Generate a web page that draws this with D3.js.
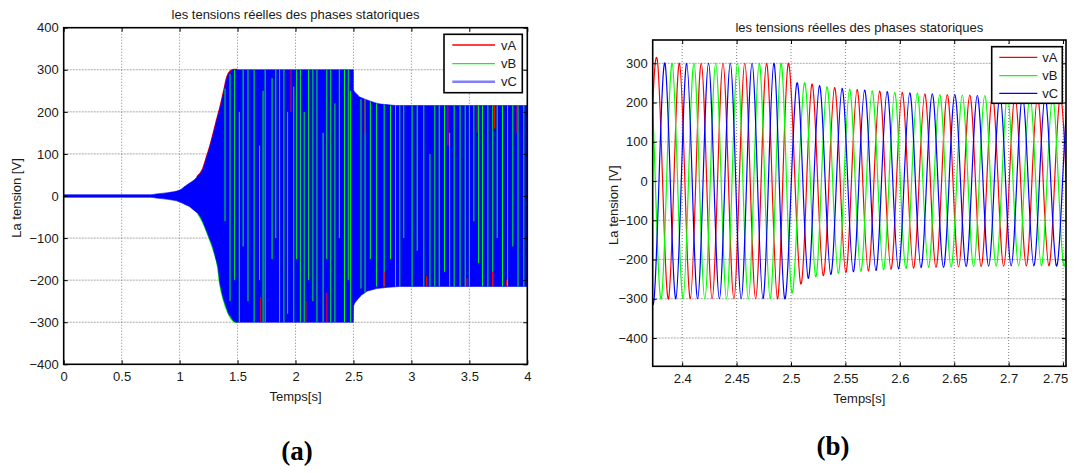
<!DOCTYPE html>
<html>
<head>
<meta charset="utf-8">
<script src="https://cdn.jsdelivr.net/npm/d3@7"></script>
<style>
  body { margin: 0; background: #fff; }
  svg { display: block; }
  .sans { font-family: "Liberation Sans", Arial, Helvetica, sans-serif; fill: #1a1a1a; }
  .cap { font-family: "Liberation Serif", "Times New Roman", serif; font-weight: bold; fill: #000; }
</style>
</head>
<body>
<svg id="fig" width="1077" height="473"></svg>
<script>
// ---------- shared text ----------
const chartTitle = "les tensions réelles des phases statoriques";
const yLabel = "La tension [V]";
const xLabel = "Temps[s]";
const seriesNames = ["vA", "vB", "vC"];

// ---------- panel (a): full run 0..4 s ----------
const aXTicks = [0, 0.5, 1, 1.5, 2, 2.5, 3, 3.5, 4];
const aYTicks = [-400, -300, -200, -100, 0, 100, 200, 300, 400];
// upper envelope of the three phase voltages (s, V)
const aUpperT = [0, 0.75, 0.8, 0.9, 1.0, 1.05, 1.1, 1.15, 1.2, 1.226, 1.262, 1.292, 1.321, 1.351, 1.381, 1.411, 1.44, 1.47, 1.5, 2.499, 2.501, 2.53, 2.556, 2.6, 2.63, 2.68, 2.72, 2.8, 2.87, 3.0, 4.0];
const aUpperV = [3, 3, 5, 8, 14, 24, 33, 45, 63, 85, 117, 148, 180, 211, 247, 283, 297, 300, 300, 300, 252, 242, 235, 230, 227, 222, 219, 217, 215, 215, 215];
// lower envelope (s, V)
const aLowerT = [0, 0.75, 0.8, 0.9, 1.0, 1.09, 1.16, 1.2, 1.25, 1.29, 1.33, 1.35, 1.38, 1.42, 1.47, 1.5, 2.499, 2.501, 2.53, 2.56, 2.62, 2.7, 2.8, 2.9, 4.0];
const aLowerV = [-3, -3, -5, -8, -14, -26, -42, -61, -95, -125, -167, -210, -246, -278, -298, -300, -300, -262, -248, -238, -226, -220, -217, -215, -215];
// vB traces showing through the dense vC trace: [time, from V, to V]
const aStripesB = [
  [1.392, 255, -60], [1.435, 290, -250], [1.475, 300, -200], [1.515, 200, -300],
  [1.548, 300, -120], [1.590, 300, -250], [1.643, 300, -300], [1.690, 120, -200],
  [1.720, 250, -300], [1.738, 300, -300], [1.798, 280, -150], [1.830, 300, -100],
  [1.863, 300, -300], [1.900, 300, -300], [1.932, 200, -280], [1.985, 260, -300],
  [2.010, 300, -150], [2.042, 300, -300], [2.075, 200, -300], [2.113, 300, -200],
  [2.150, 300, -250], [2.185, 300, -300], [2.238, 150, -300], [2.270, 300, -150],
  [2.304, 300, -300], [2.340, 220, -300], [2.378, 300, -100], [2.423, 300, -300],
  [2.455, 300, -200], [2.476, 250, -300], [2.565, 230, -220], [2.600, 230, -230],
  [2.646, 225, -150], [2.700, 220, -215], [2.765, 218, -215], [2.820, 215, -150],
  [2.863, 215, -215], [2.900, 215, -215], [2.934, 215, -100], [3.006, 215, -215],
  [3.050, 215, -130], [3.107, 215, -215], [3.160, 100, -215], [3.202, 215, -215],
  [3.240, 215, -215], [3.286, 215, -180], [3.330, 150, -215], [3.369, 215, -215],
  [3.420, 215, -215], [3.464, 215, -215], [3.500, 215, -215], [3.539, 215, -60],
  [3.580, 215, -160], [3.613, 215, -215], [3.660, 215, -215], [3.702, 215, -215],
  [3.740, 215, -100], [3.786, 215, -215], [3.830, 215, -215], [3.875, 215, -120],
  [3.920, 215, -215], [3.970, 215, -215]
];
// vA traces showing through: [time, from V, to V]
const aStripesA = [
  [1.961, 300, 200], [2.601, 230, 150], [3.315, 215, 120], [3.568, 215, 150],
  [3.717, 215, 160], [3.911, 215, 150], [1.700, -240, -300], [2.090, -250, -300],
  [2.270, -230, -300], [2.770, -180, -215], [3.130, -190, -215], [3.480, -195, -215],
  [3.700, -180, -215], [3.820, -200, -215]
];

// ---------- panel (b): detail around the 2.5 s event ----------
const bXTicks = [2.4, 2.45, 2.5, 2.55, 2.6, 2.65, 2.7, 2.75];
const bYTicks = [-400, -300, -200, -100, 0, 100, 200, 300];
// successive extrema (peak / trough) of each phase: time (s) and voltage (V)
const tA = [2.3675, 2.3775, 2.3875, 2.3975, 2.4075, 2.4175, 2.4275, 2.4375, 2.4475, 2.4575, 2.4675, 2.4775, 2.4875, 2.4975,
  2.5089, 2.5192, 2.5296, 2.5400, 2.5503, 2.5607, 2.5710, 2.5814, 2.5918, 2.6021, 2.6125, 2.6229, 2.6332, 2.6436,
  2.6540, 2.6643, 2.6747, 2.6851, 2.6954, 2.7058, 2.7162, 2.7265, 2.7369, 2.7473, 2.7576, 2.7680];
const vA = [-300, 300, -300, 300, -300, 300, -300, 300, -300, 300, -300, 300, -300, 300,
  -262, 247, -241, 238, -233, 233, -229, 229, -225, 226, -222, 222, -220, 220,
  -219, 219, -218, 217, -217, 216, -216, 215, -216, 215, -216, 215];
const tB = [2.3608, 2.3708, 2.3808, 2.3908, 2.4008, 2.4108, 2.4208, 2.4308, 2.4408, 2.4508, 2.4608, 2.4708, 2.4808, 2.4908, 2.5008,
  2.5123, 2.5227, 2.5330, 2.5434, 2.5538, 2.5641, 2.5745, 2.5849, 2.5952, 2.6056, 2.6160, 2.6263, 2.6367,
  2.6471, 2.6574, 2.6678, 2.6781, 2.6885, 2.6989, 2.7092, 2.7196, 2.7300, 2.7403, 2.7507, 2.7611, 2.7714];
const vB = [-300, 300, -300, 300, -300, 300, -300, 300, -300, 300, -300, 300, -300, 300, -285,
  250, -244, 240, -235, 234, -230, 230, -226, 226, -223, 224, -220, 220,
  -219, 219, -218, 218, -217, 216, -216, 216, -216, 215, -216, 215, -216];
const tC = [2.3642, 2.3742, 2.3842, 2.3942, 2.4042, 2.4142, 2.4242, 2.4342, 2.4442, 2.4542, 2.4642, 2.4742, 2.4842, 2.4942,
  2.5054, 2.5158, 2.5261, 2.5365, 2.5469, 2.5572, 2.5676, 2.5780, 2.5883, 2.5987, 2.6091, 2.6194, 2.6298,
  2.6401, 2.6505, 2.6609, 2.6712, 2.6816, 2.6920, 2.7023, 2.7127, 2.7231, 2.7334, 2.7438, 2.7542, 2.7645];
const vC = [300, -300, 300, -300, 300, -300, 300, -300, 300, -300, 300, -300, 300, -300,
  250, -248, 243, -238, 236, -231, 232, -228, 228, -224, 225, -221, 222,
  -220, 220, -218, 218, -217, 217, -216, 216, -216, 215, -216, 215, -216];

// ---------- drawing ----------
const RED = "#ff0000", GREEN = "#00ff00", BLUE = "#0000ff";
const FS = 13;
const svg = d3.select("#fig");

function makePanel(id, box, xd, yd, xTicks, yTicks, xFmt) {
  const x = d3.scaleLinear().domain(xd).range([box.l, box.r]);
  const y = d3.scaleLinear().domain(yd).range([box.b, box.t]);
  const g = svg.append("g").attr("id", id);

  // grid
  g.append("g").selectAll("line").data(yTicks.filter(v => y(v) > box.t + 1 && y(v) < box.b - 1)).join("line")
    .attr("x1", box.l).attr("x2", box.r).attr("y1", d => y(d)).attr("y2", d => y(d))
    .attr("stroke", "#a8a8a8").attr("stroke-width", 1).attr("stroke-dasharray", "2,1");
  g.append("g").selectAll("line").data(xTicks.filter(v => x(v) > box.l + 1 && x(v) < box.r - 1)).join("line")
    .attr("x1", d => x(d)).attr("x2", d => x(d)).attr("y1", box.t).attr("y2", box.b)
    .attr("stroke", "#606060").attr("stroke-width", 0.8).attr("stroke-dasharray", "1,2");

  svg.append("clipPath").attr("id", id + "-clip").append("rect")
    .attr("x", box.l).attr("y", box.t).attr("width", box.r - box.l).attr("height", box.b - box.t);
  const plot = g.append("g").attr("clip-path", `url(#${id}-clip)`);

  function finish(legendBox, legendBlue, titleY) {
    // axes, ticks inward on all four sides
    const styleText = a => a.selectAll("text").attr("class", "sans").attr("font-size", FS);
    const bottom = g.append("g").attr("transform", `translate(0,${box.b})`)
      .call(d3.axisBottom(x).tickValues(xTicks).tickSizeInner(-4).tickSizeOuter(0).tickPadding(7).tickFormat(xFmt))
      .call(a => a.select(".domain").remove()).call(styleText);
    g.append("g").attr("transform", `translate(${box.l},0)`)
      .call(d3.axisLeft(y).tickValues(yTicks).tickSizeInner(-4).tickSizeOuter(0).tickPadding(5))
      .call(a => a.select(".domain").remove()).call(styleText);
    g.append("g").attr("transform", `translate(0,${box.t})`)
      .call(d3.axisTop(x).tickValues(xTicks).tickSizeInner(-4).tickSizeOuter(0).tickFormat(""))
      .call(a => a.select(".domain").remove());
    g.append("g").attr("transform", `translate(${box.r},0)`)
      .call(d3.axisRight(y).tickValues(yTicks).tickSizeInner(-4).tickSizeOuter(0).tickFormat(""))
      .call(a => a.select(".domain").remove());
    g.selectAll(".tick line").attr("stroke", "#000");
    g.append("rect").attr("x", box.l).attr("y", box.t).attr("width", box.r - box.l).attr("height", box.b - box.t)
      .attr("fill", "none").attr("stroke", "#000").attr("stroke-width", 1.6);

    // titles
    const cx = (box.l + box.r) / 2;
    g.append("text").attr("class", "sans").attr("x", cx).attr("y", titleY).attr("text-anchor", "middle").attr("font-size", FS).text(chartTitle);
    g.append("text").attr("class", "sans").attr("x", cx).attr("y", box.b + 37).attr("text-anchor", "middle").attr("font-size", FS).text(xLabel);
    g.append("text").attr("class", "sans").attr("transform", `translate(${box.yl},${(box.t + box.b) / 2 + 2}) rotate(-90)`)
      .attr("dy", "0.35em").attr("text-anchor", "middle").attr("font-size", FS).text(yLabel);

    // legend
    const L = legendBox;
    const lg = g.append("g");
    lg.append("rect").attr("x", L.x).attr("y", L.y).attr("width", L.w).attr("height", L.h)
      .attr("fill", "#fff").attr("stroke", "#000").attr("stroke-width", 1.6);
    const cols = [RED, GREEN, legendBlue.color];
    seriesNames.forEach((name, i) => {
      const ry = L.rows[i];
      lg.append("line").attr("x1", L.lx1).attr("x2", L.lx2).attr("y1", ry).attr("y2", ry)
        .attr("stroke", cols[i]).attr("stroke-width", i === 2 ? legendBlue.width : 1.3);
      lg.append("text").attr("class", "sans").attr("x", L.tx).attr("y", ry).attr("dy", "0.36em").attr("font-size", FS).text(name);
    });
    return bottom;
  }
  return { x, y, g, plot, finish };
}

// ----- panel (a) -----
const A = makePanel("pa", { l: 63.7, r: 527.3, t: 27.7, b: 364.3, yl: 16.5 }, [0, 4], [-400, 400], aXTicks, aYTicks, d3.format("~g"));
{
  const up = aUpperT.map((t, i) => [t, aUpperV[i]]);
  const lo = aLowerT.map((t, i) => [t, aLowerV[i]]);
  // the two envelopes are put on a common time base so one area covers the band
  const lowAt = d3.scaleLinear().domain(aLowerT).range(aLowerV);
  const upAt = d3.scaleLinear().domain(aUpperT).range(aUpperV);
  const times = Array.from(new Set(aUpperT.concat(aLowerT))).sort((p, q) => p - q);
  const band = times.map(t => ({ t, hi: upAt(t), lo: lowAt(t) }));

  // coloured fringes of vA / vB along the rising edge
  const edgeLine = d3.line().x(d => A.x(d[0])).y(d => A.y(d[1])).curve(d3.curveMonotoneX);
  A.plot.append("path").attr("d", edgeLine(up.filter(d => d[0] >= 1.15 && d[0] <= 1.5)))
    .attr("fill", "none").attr("stroke", RED).attr("stroke-width", 2);
  A.plot.append("path").attr("d", edgeLine(lo.filter(d => d[0] >= 1.15 && d[0] <= 1.5)))
    .attr("fill", "none").attr("stroke", GREEN).attr("stroke-width", 2);

  const area = d3.area().x(d => A.x(d.t)).y0(d => A.y(d.lo)).y1(d => A.y(d.hi)).curve(d3.curveMonotoneX);
  A.plot.append("path").attr("d", area(band)).attr("fill", BLUE).attr("stroke", BLUE).attr("stroke-width", 0.6);

  A.plot.append("g").selectAll("line").data(aStripesB).join("line")
    .attr("x1", d => A.x(d[0])).attr("x2", d => A.x(d[0]))
    .attr("y1", d => A.y(Math.min(d[1], upAt(d[0])))).attr("y2", d => A.y(Math.max(d[2], lowAt(d[0]))))
    .attr("stroke", GREEN).attr("stroke-width", 1);
  A.plot.append("g").selectAll("line").data(aStripesA).join("line")
    .attr("x1", d => A.x(d[0])).attr("x2", d => A.x(d[0]))
    .attr("y1", d => A.y(Math.min(d[1], upAt(d[0])))).attr("y2", d => A.y(Math.max(d[2], lowAt(d[0]))))
    .attr("stroke", RED).attr("stroke-width", 1);
}
A.finish({ x: 444, y: 34.3, w: 78.3, h: 58.4, lx1: 452.3, lx2: 495, tx: 501, rows: [45, 63.7, 81.7] },
  { color: "#8080ff", width: 2.6 }, 18.5);

// ----- panel (b) -----
const B = makePanel("pb", { l: 652.7, r: 1066, t: 40, b: 366.3, yl: 613 }, [2.3729, 2.7527], [-472.1, 359.4], bXTicks, bYTicks, d3.format("~g"));
{
  const wave = d3.line().x(d => B.x(d[0])).y(d => B.y(d[1])).curve(d3.curveNatural);
  const phases = [[tA, vA, RED], [tB, vB, GREEN], [tC, vC, BLUE]];
  phases.forEach(([ts, vs, col]) => {
    B.plot.append("path").attr("d", wave(ts.map((t, i) => [t, vs[i]])))
      .attr("fill", "none").attr("stroke", col).attr("stroke-width", 1.2);
  });
}
const bBottom = B.finish({ x: 991.7, y: 46.7, w: 70.6, h: 56.6, lx1: 999.3, lx2: 1037.3, tx: 1042.3, rows: [57.3, 75.7, 93.3] },
  { color: BLUE, width: 1.3 }, 31.5);
// keep the last tick label inside the figure
bBottom.selectAll(".tick").filter(d => d === 2.75).select("text").attr("x", -8);

// ----- panel captions -----
svg.append("text").attr("class", "cap").attr("x", 297).attr("y", 460).attr("text-anchor", "middle")
  .attr("font-size", 27).text("(a)");
svg.append("text").attr("class", "cap").attr("x", 833).attr("y", 455).attr("text-anchor", "middle")
  .attr("font-size", 27).text("(b)");
</script>
</body>
</html>
